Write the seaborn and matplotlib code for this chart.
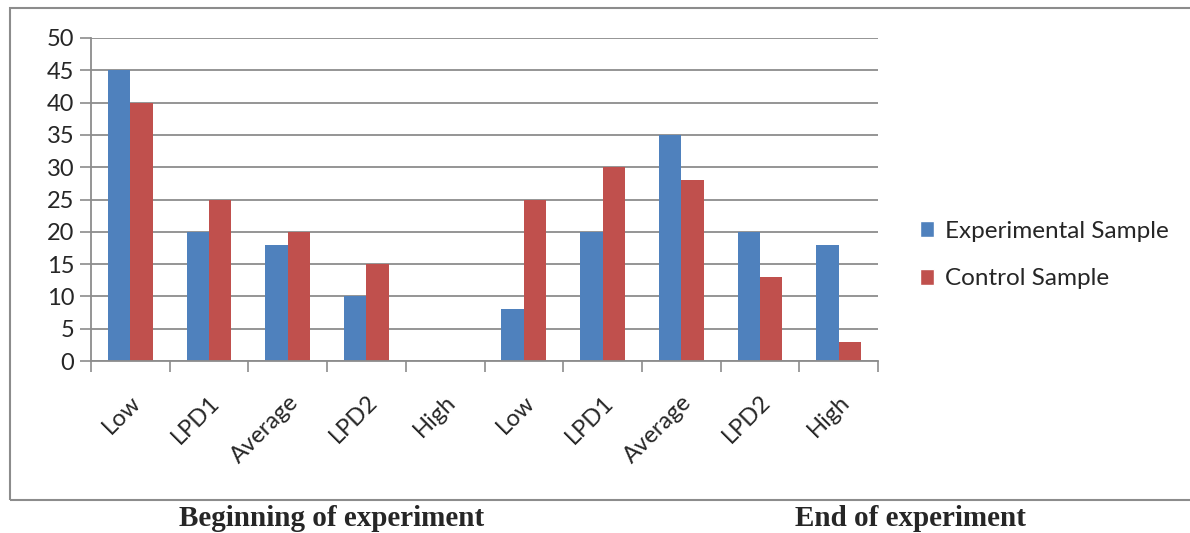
import matplotlib
matplotlib.use("Agg")
import matplotlib.pyplot as plt
import seaborn as sns
import pandas as pd
from matplotlib.patches import Rectangle
from matplotlib.ticker import FixedLocator

levels = ["Low", "LPD1", "Average", "LPD2", "High"]
phases = ["Beginning", "End"]
experimental_begin = [45, 20, 18, 10, 0]
control_begin = [40, 25, 20, 15, 0]
experimental_end = [8, 20, 35, 20, 18]
control_end = [25, 30, 28, 13, 3]
series_names = ["Experimental Sample", "Control Sample"]
colors = ["#4F81BD", "#C0504D"]

rows = []
for phase, exp_vals, ctl_vals in [("Beginning", experimental_begin, control_begin),
                                  ("End", experimental_end, control_end)]:
    for lvl, e, c in zip(levels, exp_vals, ctl_vals):
        rows.append({"key": f"{phase}-{lvl}", "label": lvl, "series": series_names[0], "value": e})
        rows.append({"key": f"{phase}-{lvl}", "label": lvl, "series": series_names[1], "value": c})
df = pd.DataFrame(rows)
order = [f"{p}-{l}" for p in phases for l in levels]
tick_labels = [l for p in phases for l in levels]

sns.set_theme(style="white")
plt.rcParams["font.family"] = ["Lato", "DejaVu Sans"]

fig = plt.figure(figsize=(11.9, 5.33), dpi=100)
W, H = 1190, 533
ax = fig.add_axes([91 / W, 1 - 361 / H, (878 - 91) / W, (361 - 38) / H])

sns.barplot(data=df, x="key", y="value", hue="series", order=order,
            hue_order=series_names, palette=colors, width=0.57,
            saturation=1, ax=ax, legend=False, linewidth=0)

ax.set_xlim(-0.5, 9.5)
ax.set_ylim(0, 50)
ax.set_yticks(range(0, 51, 5))
ax.yaxis.grid(True, color="#8c8c8c", linewidth=1.3)
ax.set_axisbelow(True)
ax.set_xlabel("")
ax.set_ylabel("")

ax.set_xticks(range(10))
ax.set_xticklabels(tick_labels, rotation=45, ha="right", rotation_mode="anchor",
                   fontsize=17)
ax.xaxis.set_minor_locator(FixedLocator([i - 0.5 for i in range(11)]))
ax.tick_params(axis="x", which="major", length=0, pad=22)
ax.tick_params(axis="x", which="minor", length=8, width=1.2, color="#8c8c8c",
               direction="out", bottom=True)
ax.tick_params(axis="y", length=8, width=1.2, color="#8c8c8c", direction="out",
               labelsize=17, pad=4, left=True)

for s in ["top", "right"]:
    ax.spines[s].set_visible(False)
for s in ["left", "bottom"]:
    ax.spines[s].set_color("#8c8c8c")
    ax.spines[s].set_linewidth(1.3)

# chart border
fig.patches.append(Rectangle((10 / W, 1 - 500 / H), 1.0, (500 - 8) / H,
                             transform=fig.transFigure, fill=False,
                             edgecolor="#8c8c8c", linewidth=1.5))

handles = [Rectangle((0, 0), 1, 1, facecolor=c) for c in colors]
fig.legend(handles, series_names, loc="center left",
           bbox_to_anchor=(898 / W, 1 - 255 / H), frameon=False, fontsize=17.5,
           handlelength=0.6, handleheight=0.6, handletextpad=0.45,
           labelspacing=1.1)

fig.text(332 / W, 1 - 519 / H, "Beginning of experiment", ha="center", va="center",
         fontsize=21, fontweight="bold", family=["Liberation Serif", "DejaVu Serif"])
fig.text(910 / W, 1 - 519 / H, "End of experiment", ha="center", va="center",
         fontsize=21, fontweight="bold", family=["Liberation Serif", "DejaVu Serif"])

fig.savefig("out.png", dpi=100)
